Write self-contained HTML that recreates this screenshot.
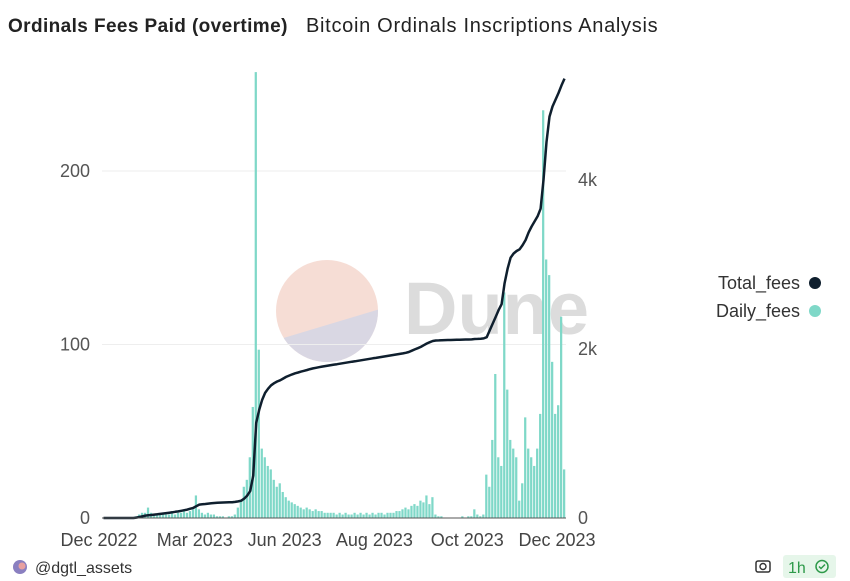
<!DOCTYPE html>
<html><head><meta charset="utf-8">
<style>
body{margin:0;background:#fff;width:850px;height:581px;overflow:hidden;font-family:"Liberation Sans",sans-serif;}
svg{position:absolute;left:0;top:0}
</style></head>
<body>
<svg id="chart" width="850" height="581">
  <text x="8" y="32" font-size="19" font-weight="bold" fill="#222" letter-spacing="0.4">Ordinals Fees Paid (overtime)</text>
  <text x="306" y="32" font-size="20" fill="#222" letter-spacing="0.7">Bitcoin Ordinals Inscriptions Analysis</text>
  <g>
    <clipPath id="cc"><circle cx="327" cy="311" r="51"/></clipPath>
    <circle cx="327" cy="311" r="51" fill="#f6ddd5"/>
    <polygon clip-path="url(#cc)" points="270,342 380,309 380,370 270,370" fill="#d9d7e3"/>
    <text x="404" y="334" font-size="74" font-weight="bold" fill="#dcdcdc">Dune</text>
  </g>
  <g id="grid"></g><g id="bars"></g><g id="line"></g><g id="axes"></g>
  <g>
    <text x="800" y="289" font-size="18" fill="#333" text-anchor="end">Total_fees</text>
    <circle cx="815" cy="283" r="6" fill="#0f1f2e"/>
    <text x="800" y="317" font-size="18" fill="#333" text-anchor="end">Daily_fees</text>
    <circle cx="815" cy="311" r="6" fill="#7fd8c8"/>
  </g>
  <g>
    <circle cx="20" cy="567" r="7" fill="#8a7fc0"/><circle cx="22" cy="566" r="3.5" fill="#e8a0a0"/>
    <text x="35" y="573" font-size="16" fill="#333">@dgtl_assets</text>
    <g>
      <rect x="756" y="561" width="14" height="11" rx="2" fill="none" stroke="#333" stroke-width="1.5"/>
      <circle cx="763" cy="566.5" r="3" fill="none" stroke="#333" stroke-width="1.4"/>
    </g>
    <rect x="783" y="555" width="53" height="23" rx="3" fill="#e6f6ea"/>
    <text x="788" y="573" font-size="16" fill="#2e9a4a">1h</text>
    <circle cx="822" cy="566.5" r="6" fill="none" stroke="#2e9a4a" stroke-width="1.5"/>
    <path d="M819 566.5 l2 2 l4 -4" fill="none" stroke="#2e9a4a" stroke-width="1.5"/>
  </g>
</svg>
<script>
const daily=[0,0,0,0,0,0,0,0,0,0,0,1,2,3,3,6,3,2,2,2,3,2,2,3,2,3,3,4,3,4,5,13,5,3,2,3,2,2,1,1,1,0,1,1,2,6,10,18,22,35,64,257,97,40,35,30,28,22,18,20,15,12,10,9,8,7,6,5,6,5,4,5,4,4,3,3,3,3,2,3,2,3,2,2,3,2,3,2,3,2,3,2,3,3,2,3,3,3,4,4,5,6,5,7,8,7,10,9,13,8,12,2,1,1,0,0,0,0,0,0,1,0,1,1,5,2,1,2,25,18,45,83,35,30,130,74,45,40,35,10,20,58,40,35,30,40,60,235,149,140,90,60,65,116,28];
const total=[0,0,0,0,0,0,0,0,0,0,0,5,12,20,28,32,36,40,44,48,53,58,63,68,73,78,85,92,100,110,120,140,158,162,166,170,174,178,180,182,184,185,186,187,190,196,205,230,265,320,500,1125,1280,1400,1480,1530,1570,1595,1615,1630,1650,1670,1685,1700,1712,1722,1732,1742,1752,1762,1770,1778,1785,1792,1798,1804,1810,1815,1820,1826,1832,1838,1844,1850,1855,1860,1866,1872,1878,1884,1890,1895,1900,1906,1912,1918,1924,1930,1936,1942,1948,1955,1965,1980,1995,2010,2025,2045,2065,2080,2095,2100,2102,2104,2105,2106,2107,2108,2109,2110,2111,2112,2113,2114,2118,2120,2122,2125,2140,2220,2300,2380,2460,2530,2780,2950,3080,3130,3160,3180,3230,3290,3380,3450,3510,3570,3660,4000,4450,4750,4870,4950,5030,5120,5200];
const leftTicks=[0,100,200];
const rightTicks=[0,2000,4000];
const rightTickLabels=["0","2k","4k"];
const xTickLabels=["Dec 2022","Mar 2023","Jun 2023","Aug 2023","Oct 2023","Dec 2023"];
const xTickIndex=[-1,31,61,91,122,152];

const NS="http://www.w3.org/2000/svg";
const X0=102,X1=566,Y0=518;
const n=daily.length, step=(X1-X0)/n;
const xs=i=>X0+step*i;
const yL=v=>Y0-v*1.735;
const yR=v=>Y0-v*0.0845;
function mk(tag,parent,attrs){const e=document.createElementNS(NS,tag);for(const k in attrs)e.setAttribute(k,attrs[k]);document.getElementById(parent).appendChild(e);return e;}

leftTicks.forEach((t,i)=>{
  if(t>0){const g=mk('line','grid',{x1:X0,x2:X1,y1:yL(t),y2:yL(t),stroke:'#eeeeee','stroke-width':1});
    
    }
  const tx=mk('text','axes',{x:90,y:yL(t)+6,'font-size':18,fill:'#555','text-anchor':'end'});
  tx.textContent=t;
  
  
});
rightTicks.forEach((t,i)=>{
  const tx=mk('text','axes',{x:578,y:yR(t)+6,'font-size':18,fill:'#555'});
  tx.textContent=rightTickLabels[i];
  
  
});
xTickLabels.forEach((l,i)=>{
  const tx=mk('text','axes',{x:xs(xTickIndex[i]),y:546,'font-size':18,fill:'#444','text-anchor':'middle'});
  tx.textContent=l;
  
  
});
daily.forEach((v,i)=>{
  const h=Y0-yL(v);
  const r=mk('rect','bars',{x:xs(i),y:yL(v),width:step*0.75,height:h,fill:'#7fd8c8'});
  
  
});
const ax=mk('line','axes',{x1:X0,x2:X1,y1:Y0,y2:Y0,stroke:'#555','stroke-width':1});


const d=total.map((v,i)=>(i?'L':'M')+(xs(i)+step/2).toFixed(1)+' '+yR(v).toFixed(1)).join(' ');
const p=mk('path','line',{d:d,fill:'none',stroke:'#0f1f2e','stroke-width':2.5,'stroke-linejoin':'round'});


</script>
</body></html>
